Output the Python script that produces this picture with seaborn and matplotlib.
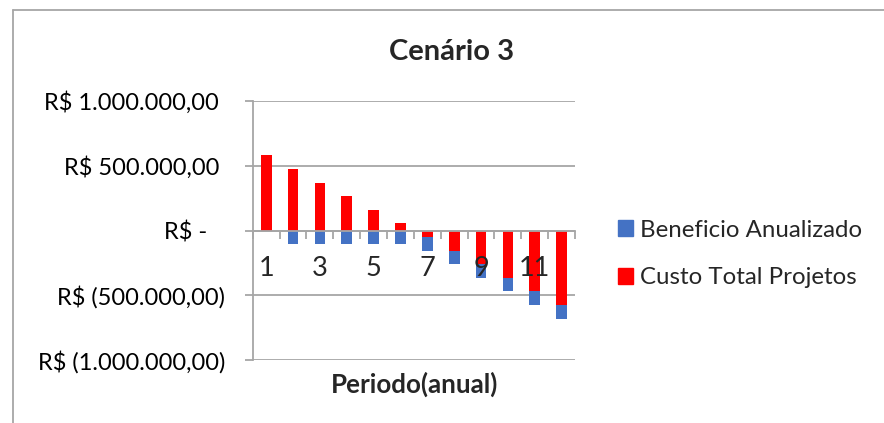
import matplotlib
matplotlib.use("Agg")
import matplotlib.pyplot as plt
import seaborn as sns
import pandas as pd
from matplotlib.patches import Patch
from matplotlib.lines import Line2D
from matplotlib.ticker import FixedLocator, FuncFormatter

# dados (R$)
periodos = list(range(1, 13))
custo_total = [580000, 475000, 370000, 265000, 160000, 55000,
               -50000, -155000, -260000, -365000, -470000, -575000]
beneficio = [0, -105000, -105000, -105000, -105000, -105000,
             -105000, -105000, -105000, -105000, -105000, -105000]
yticks = [-1000000, -500000, 0, 500000, 1000000]

AZUL = "#4472C4"
VERMELHO = "#FF0000"
CINZA = "#A6A6A6"

sns.set_style("white")
plt.rcParams["font.family"] = ["Lato", "DejaVu Sans"]

df = pd.DataFrame({"periodo": periodos, "custo": custo_total, "beneficio": beneficio})
# empilhamento estilo Excel: o beneficio fica abaixo da parte negativa do custo
df["base"] = df["custo"].clip(upper=0) + df["beneficio"]

fig = plt.figure(figsize=(8.84, 4.23), dpi=100)
ax = fig.add_axes([0.2859, 0.1489, 0.3646, 0.6123])

sns.barplot(data=df, x="periodo", y="base", color=AZUL, width=0.4,
            saturation=1, linewidth=0, ax=ax)
sns.barplot(data=df, x="periodo", y="custo", color=VERMELHO, width=0.4,
            saturation=1, linewidth=0, ax=ax)

ax.set_xlim(-0.5, 11.5)
ax.set_ylim(-1000000, 1000000)
ax.set_yticks(yticks)


def reais(v, pos):
    if v == 0:
        return "R$ -   "
    s = f"{abs(v):,.2f}".replace(",", "X").replace(".", ",").replace("X", ".")
    return f"R$ ({s})" if v < 0 else f"R$ {s} "


ax.yaxis.set_major_formatter(FuncFormatter(reais))
ax.yaxis.grid(True, color=CINZA, linewidth=1.3)
ax.set_axisbelow(True)
ax.xaxis.set_zorder(3)  # rotulos 1,3,5... por cima das barras

for s in ["top", "right"]:
    ax.spines[s].set_visible(False)
ax.spines["left"].set_color(CINZA)
ax.spines["left"].set_linewidth(1.3)
ax.spines["bottom"].set_position(("data", 0))
ax.spines["bottom"].set_color(CINZA)
ax.spines["bottom"].set_linewidth(1.3)

ax.tick_params(axis="y", left=True, length=6, width=1.3, color=CINZA, pad=14,
               labelsize=17, labelcolor="black")

ax.xaxis.set_major_locator(FixedLocator(list(range(0, 12, 2))))
ax.set_xticklabels([str(p) for p in periodos[::2]])
ax.xaxis.set_minor_locator(FixedLocator([i - 0.5 for i in range(13)]))
ax.tick_params(axis="x", which="major", bottom=True, length=0, pad=18, labelsize=19.5)
ax.tick_params(axis="x", which="minor", bottom=True, length=6, width=1.3, color=CINZA,
               direction="out")
ax.set_xlabel("")
ax.set_ylabel("")

fig.text(452 / 884, 1 - 52 / 423, "Cenário 3", ha="center", va="center",
         fontsize=21, fontweight="bold")
fig.text(415 / 884, 1 - 384 / 423, "Periodo(anual)", ha="center", va="center",
         fontsize=18.7, fontweight="bold")

handles = [Patch(color=AZUL, label="Beneficio Anualizado"),
           Patch(color=VERMELHO, label="Custo Total Projetos")]
fig.legend(handles=handles, loc="center left", bbox_to_anchor=(0.675, 0.3995),
           frameon=False, fontsize=17.3, handlelength=0.6, handleheight=0.6,
           handletextpad=0.3, labelspacing=1.12)

# borda do grafico (canto superior esquerdo visivel)
fig.add_artist(Line2D([13 / 884, 13 / 884], [0, 1 - 10 / 423], color=CINZA,
                      linewidth=1.3, transform=fig.transFigure))
fig.add_artist(Line2D([13 / 884, 1], [1 - 10 / 423, 1 - 10 / 423], color=CINZA,
                      linewidth=1.3, transform=fig.transFigure))

fig.savefig("out.png", dpi=100)
